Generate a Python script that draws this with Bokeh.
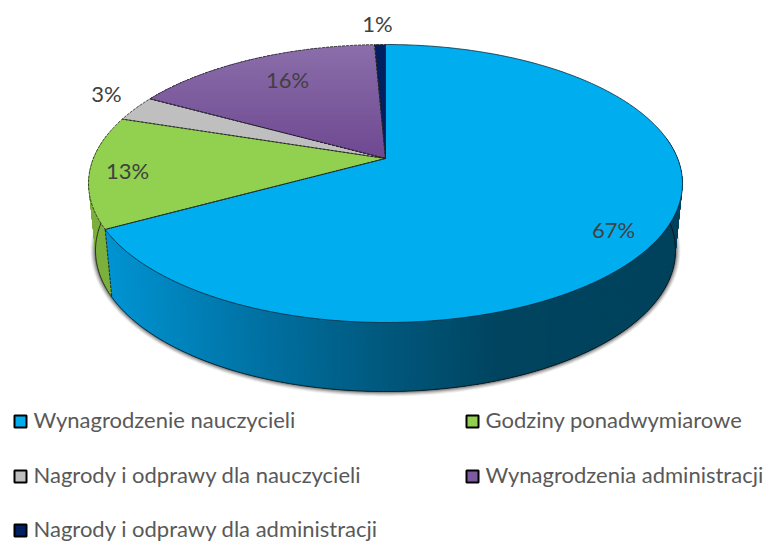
import numpy as np
from bokeh.plotting import figure
from bokeh.models import Range1d
from bokeh.core.properties import value
from bokeh.embed import file_html
from bokeh.resources import INLINE

categories = ["Wynagrodzenie nauczycieli", "Godziny ponadwymiarowe",
              "Nagrody i odprawy dla nauczycieli", "Wynagrodzenia administracji",
              "Nagrody i odprawy dla administracji"]
shares = [67.0, 13.0, 3.0, 16.3, 0.7]
share_labels = ["67%", "13%", "3%", "16%", "1%"]
colors = ["#00AEEF", "#92D050", "#BFBFBF", "#7D5BA0", "#002060"]

# layout
LABEL_XY = [(613, 229), (127, 170), (106, 93), (287, 79), (377, 23)]
LEGEND_XY = [(13, 421), (465, 421), (13, 476), (465, 476), (13, 530)]
LEGEND_TEXT_Y = [418.5, 418.5, 473.5, 473.5, 527.5]
FONT = "Lato"
TILT = 0.18
TOP = dict(cx=385.0, cy=183.0, a=297.0, b=139.0)
BOT = dict(cx=385.0, cy=250.0, a=290.0, b=141.0)


def project(deg, e):
    th = np.radians(deg)
    u, v = np.sin(th), np.cos(th)
    d = 1 + TILT * v
    return (e["cx"] + e["a"] * u * np.sqrt(1 - TILT ** 2) / d,
            e["cy"] - e["b"] * (v + TILT) / d)


def centre(e):
    return e["cx"], e["cy"] - e["b"] * TILT


def lerp_stops(x, stops):
    xs = [s[0] for s in stops]
    return "#%02x%02x%02x" % tuple(int(round(np.interp(x, xs, [s[1][i] for s in stops]))) for i in range(3))


def clip_below(xs, ys, y0):
    """Part of a convex polygon that lies below the pixel row y0."""
    pts = list(zip(xs, ys))
    out = []
    for i in range(len(pts)):
        a, b = pts[i - 1], pts[i]
        ina, inb = a[1] >= y0, b[1] >= y0
        if ina != inb:
            out.append((a[0] + (b[0] - a[0]) * (y0 - a[1]) / (b[1] - a[1]), y0))
        if inb:
            out.append(b)
    return out


total = sum(shares)
edges = np.concatenate([[0], np.cumsum(shares)]) / total * 360.0

p = figure(width=769, height=541, output_backend="svg", toolbar_location=None,
           x_range=Range1d(0, 769), y_range=Range1d(541, 0), min_border=0,
           outline_line_color=None, background_fill_color="white")
p.axis.visible = False
p.grid.visible = False

# soft shadow under the solid
phi = np.linspace(0, 360, 361)
bx, by = project(phi, BOT)
for grow, alpha in [(5, .06), (4, .09), (3, .12), (2, .16), (1, .22)]:
    p.patch(BOT["cx"] + (bx - BOT["cx"]) * (BOT["a"] + grow) / BOT["a"],
            BOT["cy"] + (by - BOT["cy"]) * (BOT["b"] + grow) / BOT["b"],
            fill_color="black", fill_alpha=alpha, line_color=None)

# side wall: painter's order, each strip reaching under the next so no seams show
stops = [(90, (0, 152, 216)), (112, (0, 146, 208)), (250, (0, 115, 165)),
         (385, (0, 88, 125)), (500, (0, 68, 95)), (690, (0, 66, 92))]
qx, qy, qc = [], [], []
for i in range(len(shares)):
    lo, hi = max(edges[i], 80), min(edges[i + 1], 280)
    if hi <= lo:
        continue
    ph = np.arange(lo, hi, 0.5)
    for a0 in ph:
        a1 = min(a0 + 3.0, hi)
        arc = np.linspace(a0, a1, 5)
        tx, ty = project(arc, TOP)
        dx, dy = project(arc[::-1], BOT)
        qx.append(np.concatenate([tx, dx]))
        qy.append(np.concatenate([ty, dy]))
        mx, _ = project(a0 + 0.25, TOP)
        qc.append(lerp_stops(mx, stops) if i == 0 else "#7CB03E")
p.patches(list(qx), list(qy), fill_color=qc, line_color=None)

ph = np.linspace(80, 280, 300)
lx, ly = project(ph, BOT)
p.line(lx, ly, line_color="#111111", line_width=0.8)
# wall seam between the two visible slices
sx0, sy0 = project(edges[1], TOP)
sx1, sy1 = project(edges[1], BOT)
p.line([sx0, sx1], [sy0, sy1], line_color="#111111", line_width=0.8, line_dash="3 1")

# top face
cx0, cy0 = centre(TOP)
faces = []
for i in range(len(shares)):
    n = max(int((edges[i + 1] - edges[i]) * 2), 3)
    ph = np.linspace(edges[i], edges[i + 1], n)
    x, y = project(ph, TOP)
    faces.append((np.concatenate([[cx0], x]), np.concatenate([[cy0], y])))

for i, (x, y) in enumerate(faces):
    if categories[i].startswith("Wynagrodzenia adm"):
        ytop = y.min()
        bands = np.linspace(ytop, cy0, 57)[:-1]
        bxs, bys, bcs = [], [], []
        for y0 in bands:
            pts = clip_below(list(x), list(y), y0)
            if len(pts) >= 3:
                bxs.append([q[0] for q in pts])
                bys.append([q[1] for q in pts])
                bcs.append(lerp_stops(y0, [(ytop, (139, 110, 170)), (cy0, (110, 72, 145))]))
        p.patches(bxs, bys, fill_color=bcs, line_color=None)
    else:
        p.patch(x, y, fill_color=colors[i], line_color=None)

for i, (x, y) in enumerate(faces):
    if i == 0:
        p.line(np.append(x, x[0]), np.append(y, y[0]), line_color="#0b2a3a", line_width=0.8)
    else:
        p.line(np.append(x, x[0]), np.append(y, y[0]), line_color="#222222", line_width=0.8, line_dash="3 1")

# percentage labels
p.text([q[0] for q in LABEL_XY], [q[1] for q in LABEL_XY], text=share_labels,
       text_font=value(FONT), text_font_size="22px", text_color="#404040",
       text_align="center", text_baseline="middle")

# legend
for (lx0, ly0), ty, name, c in zip(LEGEND_XY, LEGEND_TEXT_Y, categories, colors):
    p.quad(left=lx0 + 1, right=lx0 + 13, top=ly0 - 6, bottom=ly0 + 6,
           fill_color=c, line_color="black", line_width=2)
    p.text([lx0 + 20], [ty], text=[name], text_font=value(FONT), text_font_size="22px",
           text_color="#595959", text_align="left", text_baseline="middle")

open("out.html", "w").write(file_html(p, INLINE))
